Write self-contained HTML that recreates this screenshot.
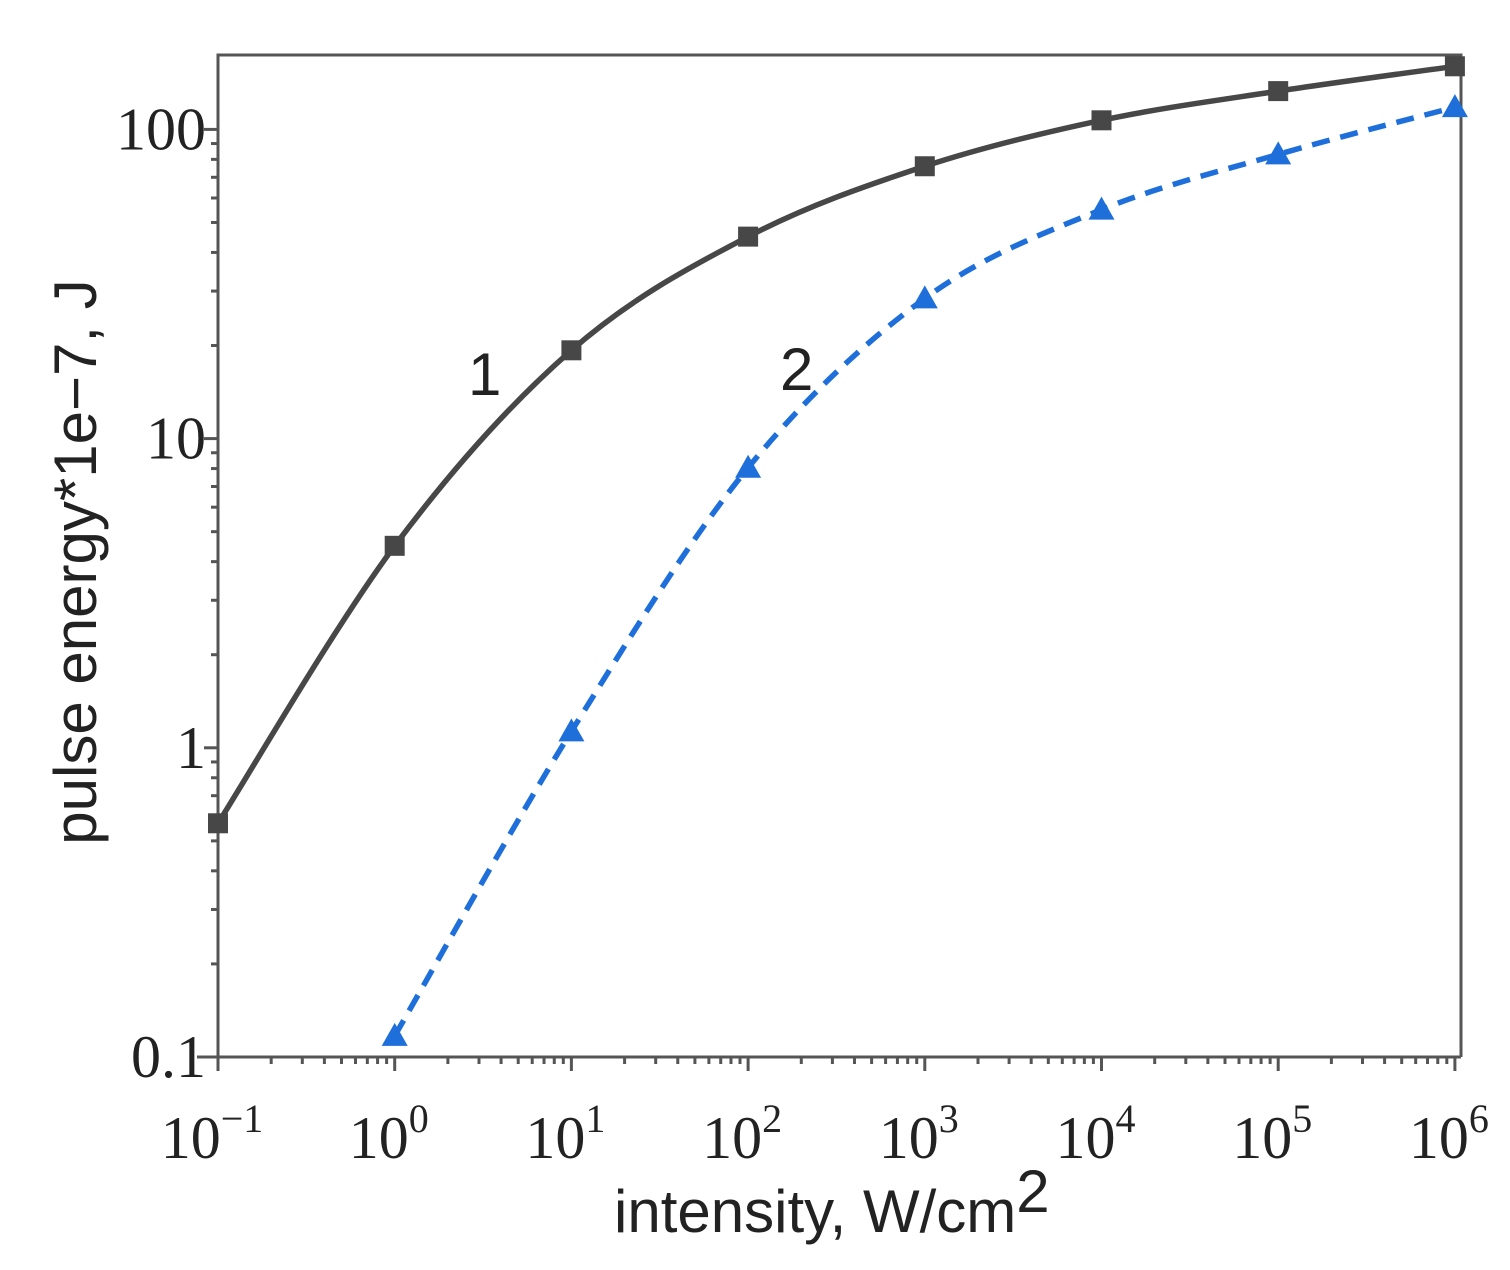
<!DOCTYPE html>
<html><head><meta charset="utf-8"><style>
html,body{margin:0;padding:0;background:#fff;width:1510px;height:1270px;overflow:hidden}
svg{display:block}
.tk{font-family:"Liberation Serif",serif;font-size:60px;fill:#222}
.ttl{font-family:"Liberation Sans",sans-serif;font-size:60px;fill:#222}
</style></head><body>
<svg id="chart" width="1510" height="1270" viewBox="0 0 1510 1270" xmlns="http://www.w3.org/2000/svg"></svg>
<script>
const xExp = [-1,0,1,2,3,4,5,6];
const yTickValues = [0.1,1,10,100];
const yTickLabels = ["0.1","1","10","100"];
const xValues = [0.1,1,10,100,1000,10000,100000,1000000];
const series1 = [0.57,4.5,19.3,45,76,107,133,160];
const xValues2 = [1,10,100,1000,10000,100000,1000000];
const series2 = [0.117,1.13,8.05,28.4,55,83,118];

const L=218,R=1461,T=55,B=1057;
const X0=218, XD=176.7, Y0=1057, YD=309.2;
function sx(v){return X0+(Math.log10(v)+1)*XD;}
function sy(v){return Y0-(Math.log10(v)+1)*YD;}
const svg=document.getElementById('chart');
const NS='http://www.w3.org/2000/svg';
function mk(tag,attrs,parent){const e=document.createElementNS(NS,tag);for(const k in attrs)e.setAttribute(k,attrs[k]);(parent||svg).appendChild(e);return e;}

const frame=mk('path',{d:`M${L} ${B} L${L} ${T} L${R} ${T} L${R} ${B}`,fill:'none',stroke:'#555',"stroke-width":3});


const xa=mk('line',{x1:197,y1:B,x2:R,y2:B,stroke:'#555',"stroke-width":3});



xExp.forEach((e,i)=>{
  const x=sx(Math.pow(10,e));
  mk('line',{x1:x,y1:B,x2:x,y2:B+14,stroke:'#555',"stroke-width":3});
  const t=mk('text',{x:x-6,y:1158,class:'tk',"text-anchor":'middle'});
  
  
  t.innerHTML='10<tspan dy="-26" font-size="40">'+(e<0?'\u2212'+(-e):e)+'</tspan>';
  if(i<xExp.length-1){for(let m=2;m<10;m++){const xm=sx(m*Math.pow(10,e));mk('line',{x1:xm,y1:B,x2:xm,y2:B+7,stroke:'#555',"stroke-width":3});}}
});
yTickValues.forEach((v,i)=>{
  const y=sy(v);
  mk('line',{x1:L,y1:y,x2:L-14,y2:y,stroke:'#555',"stroke-width":3});
  const t=mk('text',{x:206,y:y+20,class:'tk',"text-anchor":'end'});
  
  
  t.textContent=yTickLabels[i];
  for(let m=2;m<10;m++){const ym=sy(m*v);if(ym<T)break;mk('line',{x1:L,y1:ym,x2:L-7,y2:ym,stroke:'#555',"stroke-width":3});}
});

function smooth(pts){
  let d=`M${pts[0][0]} ${pts[0][1]}`;
  for(let i=0;i<pts.length-1;i++){
    const p0=pts[Math.max(0,i-1)],p1=pts[i],p2=pts[i+1],p3=pts[Math.min(pts.length-1,i+2)];
    const c1=[p1[0]+(p2[0]-p0[0])/6,p1[1]+(p2[1]-p0[1])/6];
    const c2=[p2[0]-(p3[0]-p1[0])/6,p2[1]-(p3[1]-p1[1])/6];
    d+=` C${c1[0]} ${c1[1]} ${c2[0]} ${c2[1]} ${p2[0]} ${p2[1]}`;
  }
  return d;
}
const p1=xValues.map((x,i)=>[sx(x),sy(series1[i])]);
const p2=xValues2.map((x,i)=>[sx(x),sy(series2[i])]);
const l1=mk('path',{d:smooth(p1),fill:'none',stroke:'#474747',"stroke-width":5.5});


p1.forEach(p=>{const r=mk('rect',{x:p[0]-10,y:p[1]-10,width:20,height:20,fill:'#474747'});
  
  });
const l2=mk('path',{d:smooth(p2),fill:'none',stroke:'#1f6fdb',"stroke-width":5.5,"stroke-dasharray":'18 11'});


p2.forEach(p=>{const r=mk('path',{d:`M${p[0]} ${p[1]-13} L${p[0]+13} ${p[1]+10} L${p[0]-13} ${p[1]+10} Z`,fill:'#1f6fdb'});
  
  });

const a=mk('text',{x:468,y:395,class:'ttl',"font-size":52});a.textContent='1';


const b=mk('text',{x:780,y:390,class:'ttl',"font-size":52});b.textContent='2';



const xt=mk('text',{x:614,y:1232,class:'ttl'});


xt.innerHTML='intensity, W/cm<tspan dy="-20">2</tspan>';
const yt=mk('text',{x:0,y:0,class:'ttl',"text-anchor":'middle',transform:'translate(96 562) rotate(-90)'});


yt.textContent='pulse energy*1e\u22127, J';
</script>
</body></html>
